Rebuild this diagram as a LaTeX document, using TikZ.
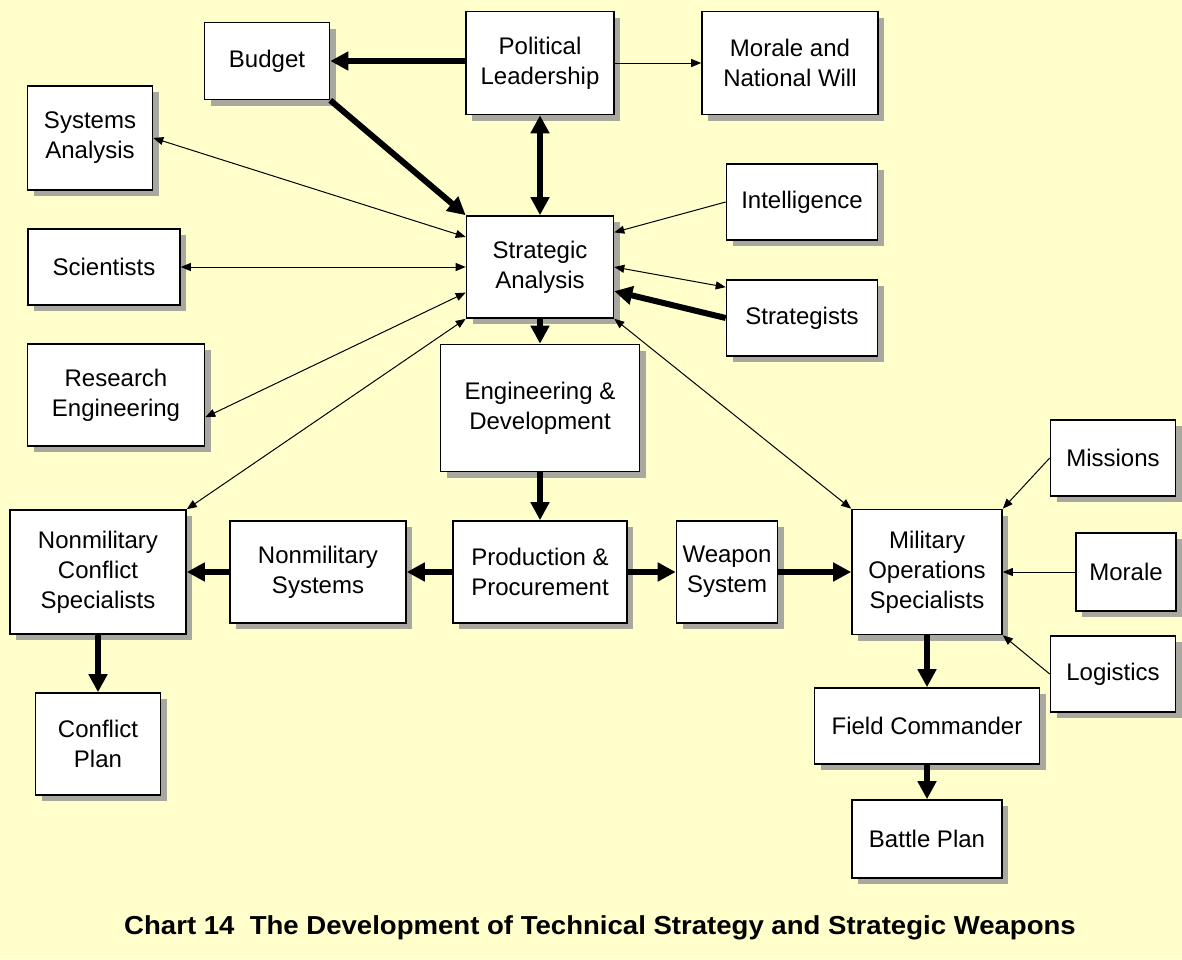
\documentclass[tikz,border=0pt]{standalone}
\usepackage{fontspec}
\setmainfont{Liberation Sans}
\usetikzlibrary{arrows.meta,shadows}

\definecolor{paper}{RGB}{255,255,204}
\definecolor{shade}{RGB}{168,168,160}
\newcommand{\boxfont}{\fontsize{12}{15}\selectfont}

\tikzset{
  box/.style 2 args={draw, line width=0.8pt, fill=white, align=center,
    inner sep=0pt, minimum width=#1*0.5pt, minimum height=#2*0.5pt,
    font=\boxfont,
    drop shadow={shadow xshift=3pt, shadow yshift=-3pt, fill=shade, opacity=1}},
  heavy/.style={line width=3pt, -{Triangle[length=9pt,width=9pt]}},
  heavyboth/.style={line width=3pt, {Triangle[length=9pt,width=9pt]}-{Triangle[length=9pt,width=9pt]}},
  light/.style={line width=0.5pt, -{Triangle[length=5pt,width=4pt]}},
  lightboth/.style={line width=0.5pt, {Triangle[length=5pt,width=4pt]}-{Triangle[length=5pt,width=4pt]}}
}

\begin{document}
\begin{tikzpicture}[x=0.5pt, y=-0.5pt]
    % Paper
    \fill[paper] (0,0) rectangle (1182,959);
    \useasboundingbox (0,0) rectangle (1182,959);

    % Top row
    \node[box={125}{77}]  (budget) at (267,61)  {Budget};
    \node[box={148}{103}] (lead)   at (540,63)  {Political\\Leadership};
    \node[box={176}{103}] (will)   at (790,63)  {Morale and\\National Will};

    % Around the strategic analysis
    \node[box={125}{104}] (sysan)  at (90,138)  {Systems\\Analysis};
    \node[box={152}{76}]  (sci)    at (104,267) {Scientists};
    \node[box={177}{102}] (reseng) at (116,395) {Research\\Engineering};
    \node[box={147}{102}] (stran)  at (540,267) {Strategic\\Analysis};
    \node[box={151}{76}]  (intel)  at (802,202) {Intelligence};
    \node[box={151}{76}]  (strat)  at (802,318) {Strategists};
    \node[box={199}{127}] (engdev) at (540,408) {Engineering \&\\Development};

    % Middle row
    \node[box={176}{124}] (ncs)    at (98,572)  {Nonmilitary\\Conflict\\Specialists};
    \node[box={176}{102}] (nsys)   at (318,572) {Nonmilitary\\Systems};
    \node[box={174}{102}] (prod)   at (540,572) {Production \&\\Procurement};
    \node[box={101}{102}] (weapon) at (727,572) {Weapon\\System};
    \node[box={150}{125}] (mos)    at (927,572) {Military\\Operations\\Specialists};
    \node[box={125}{76}]  (miss)   at (1113,458) {Missions};
    \node[box={100}{78}]  (morale) at (1126,572) {Morale};
    \node[box={125}{76}]  (logis)  at (1113,674) {Logistics};

    % Bottom
    \node[box={125}{102}] (cplan)  at (98,744)  {Conflict\\Plan};
    \node[box={225}{76}]  (field)  at (927,726) {Field Commander};
    \node[box={150}{78}]  (bplan)  at (927,839) {Battle Plan};

    % Heavy flows
    \draw[heavy] (lead.west |- budget.east) -- (budget.east);
    \draw[heavy] (budget.south east) -- (stran.north west);
    \draw[heavyboth] (lead.south) -- (stran.north);
    \draw[heavy] (strat.west) -- (stran.-18.7);
    \draw[heavy] (stran.south) -- (engdev.north);
    \draw[heavy] (engdev.south) -- (prod.north);
    \draw[heavy] (prod.west) -- (nsys.east);
    \draw[heavy] (nsys.west) -- (ncs.east);
    \draw[heavy] (prod.east) -- (weapon.west);
    \draw[heavy] (weapon.east) -- (mos.west);
    \draw[heavy] (ncs.south) -- (cplan.north);
    \draw[heavy] (mos.south) -- (field.north);
    \draw[heavy] (field.south) -- (bplan.north);

    % Light flows
    \draw[light] (lead.east) -- (will.west);
    \draw[lightboth] (sysan.east) -- (stran.158.3);
    \draw[lightboth] (sci.east) -- (stran.west);
    \draw[lightboth] (reseng.-14.5) -- (stran.-161);
    \draw[lightboth] (ncs.north east) -- (stran.south west);
    \draw[light] (intel.west) -- (stran.25.3);
    \draw[lightboth] (stran.east) -- (strat.158);
    \draw[lightboth] (stran.south east) -- (mos.north west);
    \draw[light] (miss.west) -- (mos.north east);
    \draw[light] (morale.west) -- (mos.east);
    \draw[light] (logis.west) -- (mos.south east);

    % Caption
    \node (title) at (600,928) {\scalebox{1.06}[1]{\fontsize{13}{15}\selectfont\bfseries
      Chart 14\ \ The Development of Technical Strategy and Strategic Weapons}};
\end{tikzpicture}
\end{document}
